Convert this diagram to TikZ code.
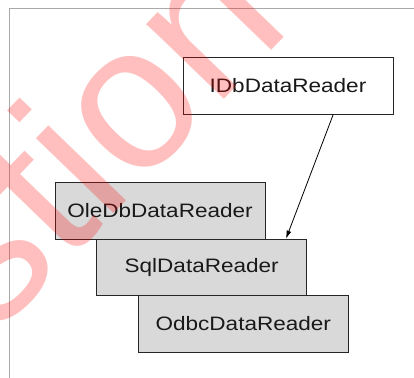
\documentclass[tikz,border=0pt]{standalone}
\usepackage{fontspec}
\setmainfont{Liberation Sans}[FakeStretch=1.16]
\newfontfamily\wmfont{Liberation Sans}
\usetikzlibrary{arrows.meta,calc}
\definecolor{boxgray}{RGB}{217,217,217}
\definecolor{framegray}{RGB}{170,170,170}
\begin{document}
\begin{tikzpicture}[x=1bp,y=-1bp,
  cls/.style={draw=black!85, line width=0.9bp, minimum width=210bp, minimum height=56.5bp, inner sep=0pt, font=\fontsize{19.5}{23}\selectfont, text=black!90},
  iface/.style={cls, fill=white},
  impl/.style={cls, fill=boxgray},
  frameline/.style={draw=framegray, line width=0.8bp},
  wm/.style={text=red, opacity=0.25, font=\wmfont\fontsize{205}{205}\selectfont, rotate=46, anchor=base west, inner sep=0pt}]
\useasboundingbox (0,0) rectangle (414,378);
\fill[white] (0,0) rectangle (414,378);
\coordinate (fr1) at (9.5,378);
\coordinate (fr2) at (9.5,8);
\coordinate (fr3) at (414,8);
\draw[frameline] (fr1) -- (fr2) -- (fr3);
\node[iface] (idb) at (288,86) {IDbDataReader};
\node[impl] (oledb) at (160,210.7) {OleDbDataReader};
\node[impl] (sql) at (201.7,267.3) {SqlDataReader};
\node[impl] (odbc) at (243.3,323.7) {OdbcDataReader};
\draw[-{Latex[length=8bp,width=5bp]}, line width=0.8bp] ($(idb.south west)!0.714!(idb.south east)$) -- ($(sql.north west)!0.9!(sql.north east)$);
\begin{scope}
\clip (0,0) rectangle (414,378);
\node[wm] (wmark) at (-6,338) {stion};
\end{scope}
\end{tikzpicture}
\end{document}
